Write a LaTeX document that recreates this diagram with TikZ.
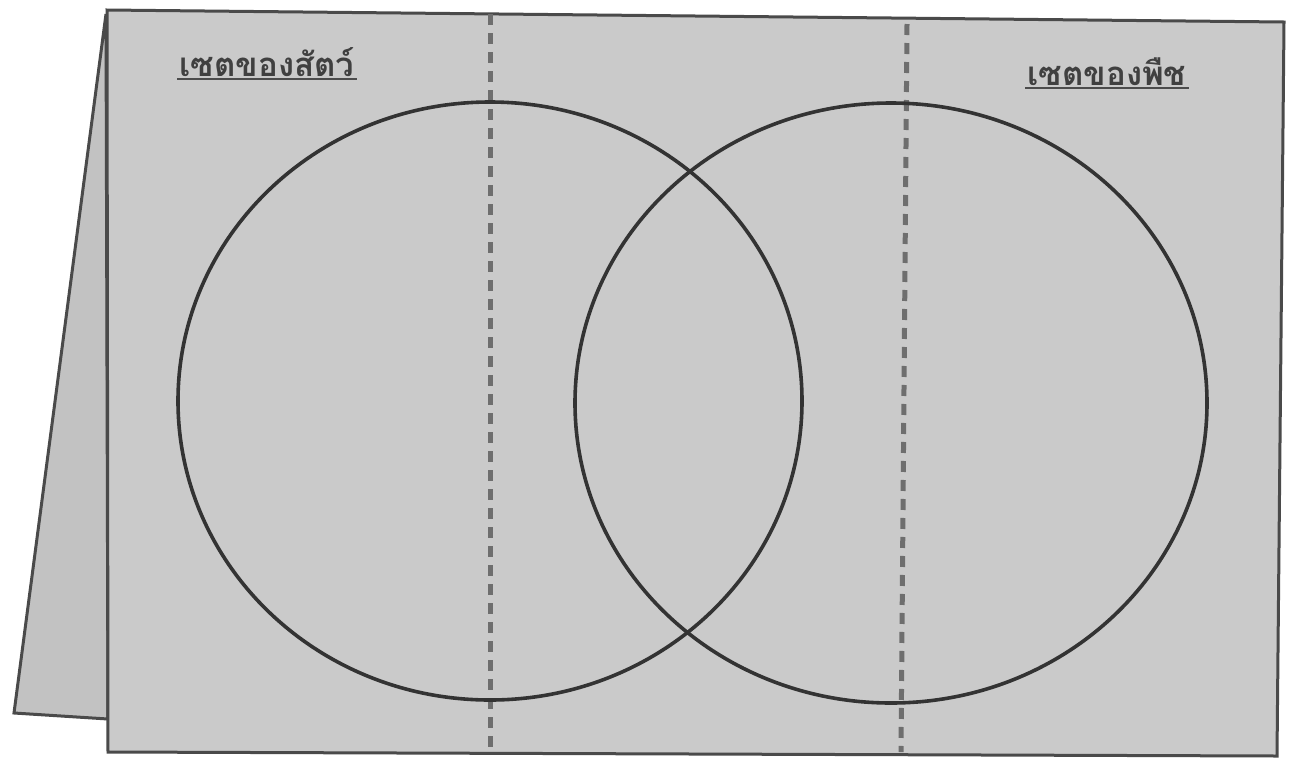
\documentclass[tikz,border=0pt]{standalone}
\usepackage{fontspec}
\newfontfamily\thaifont[Script=Thai]{Loma}
\usetikzlibrary{shapes.geometric}
\definecolor{card}{HTML}{CACACA}
\definecolor{flap}{HTML}{C2C2C2}
\definecolor{edge}{HTML}{4A4A4A}
\definecolor{fold}{HTML}{6E6E6E}

\begin{document}
\begin{tikzpicture}[x=1pt, y=-1pt,
  setname/.style={font=\thaifont\bfseries\fontsize{33}{36}\selectfont, text=black!75, inner sep=2pt},
  setring/.style={ellipse, draw=black!80, line width=3.6pt, inner sep=0pt}]
\useasboundingbox (0,0) rectangle (1296,764);
\fill[white] (0,0) rectangle (1296,764);
\filldraw[fill=flap, draw=edge, line width=3pt] (106,14) -- (14,713) -- (108,719) -- cycle;
\filldraw[fill=card, draw=edge, line width=3pt] (107,10) -- (1284,22) -- (1277,756) -- (108,752) -- cycle;
\draw[fold, line width=5pt, dash pattern=on 11pt off 8pt] (490,14) -- (490,748);
\draw[fold, line width=5pt, dash pattern=on 11pt off 8pt] (907,24) -- (901,752);
\node[setring, minimum width=624pt, minimum height=598pt] (animals) at (490,401) {};
\node[setring, minimum width=632pt, minimum height=600pt] (plants) at (891,403) {};
\node[setname] (animalname) at (267,62) {เซตของสัตว์};
\node[setname] (plantname) at (1107,72) {เซตของพืช};
\draw[black!70, line width=2.5pt] (animalname.south west) -- (animalname.south east);
\draw[black!70, line width=2.5pt] (plantname.south west) -- (plantname.south east);
\end{tikzpicture}
\end{document}
